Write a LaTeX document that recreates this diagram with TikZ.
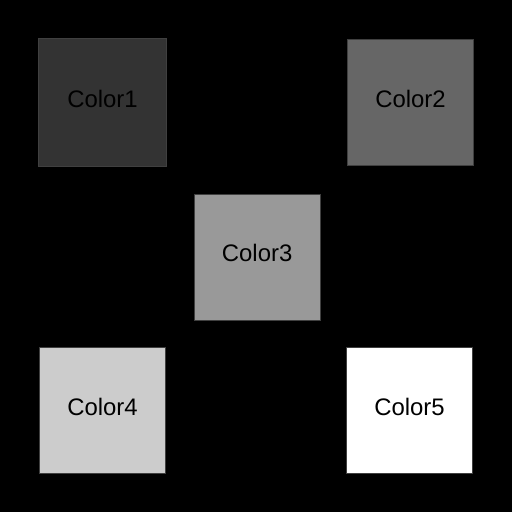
\documentclass[tikz,border=0pt]{standalone}
\usepackage{fontspec}
\setmainfont{Liberation Sans}
\usepackage{xcolor}
\usepackage{tikz}
\usetikzlibrary{positioning}

\begin{document}
\begin{tikzpicture}[node distance=4.5cm,
    swatch/.style={draw=black!75, line width=0.025cm, rectangle, inner sep=0pt, minimum size=3.15cm, text depth=5.7pt, font=\fontsize{17}{20}\selectfont}]
    \fill[black] (0,0) rectangle (12.8,-12.8);
    \useasboundingbox (0,0) rectangle (12.8,-12.8);

    \node[swatch, minimum size=3.2cm, fill=black!80] (color1) at (2.5625,-2.5625) {Color1};
    \node[swatch, fill=black!60, right=of color1] (color2) {Color2};
    \node[swatch, fill=black!40, below right=0.665cm and 0.665cm of color1] (color3) {Color3};
    \node[swatch, fill=black!20, below=of color1] (color4) {Color4};
    \node[swatch, fill=white, right=of color4] (color5) {Color5};
\end{tikzpicture}
\end{document}
